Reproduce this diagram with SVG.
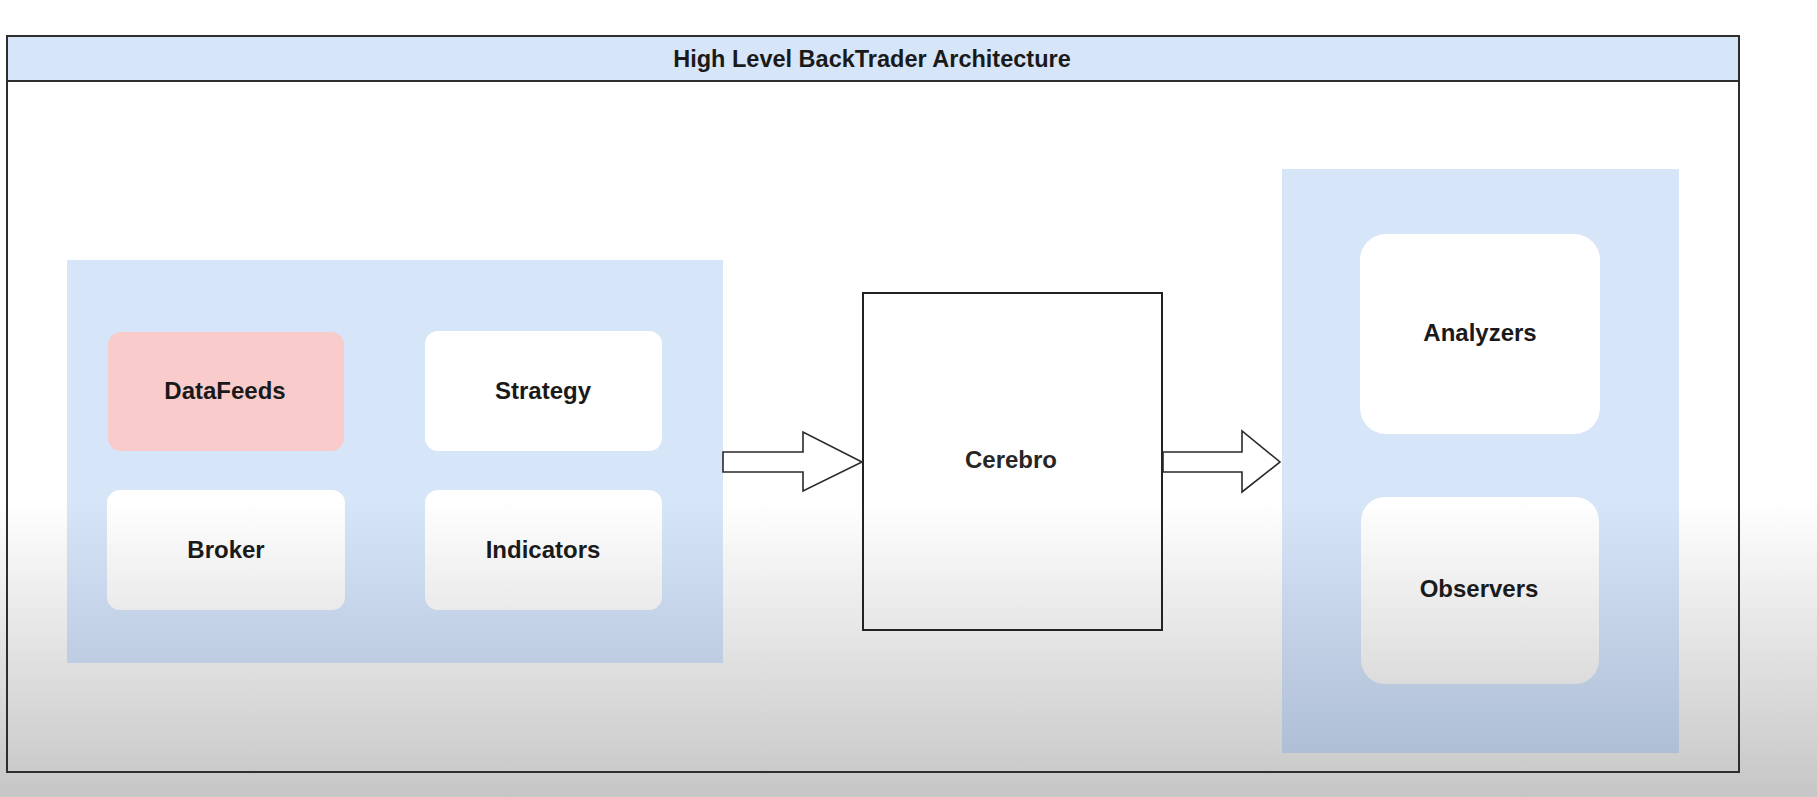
<svg xmlns="http://www.w3.org/2000/svg" width="1817" height="797" viewBox="0 0 1817 797">
  <defs>
    <linearGradient id="gWhite" gradientUnits="userSpaceOnUse" x1="0" y1="500" x2="0" y2="797">
      <stop offset="0" stop-color="#ffffff"/>
      <stop offset="1" stop-color="#c6c6c6"/>
    </linearGradient>
    <linearGradient id="gBlue" gradientUnits="userSpaceOnUse" x1="0" y1="500" x2="0" y2="797">
      <stop offset="0" stop-color="#d7e5f8"/>
      <stop offset="1" stop-color="#a8b8cf"/>
    </linearGradient>
    <style>
      .lbl { font-family: "Liberation Sans", Arial, sans-serif; font-weight: bold; font-size: 24px; fill: #1a1a1a; text-anchor: middle; }
      .title { font-family: "Liberation Sans", Arial, sans-serif; font-weight: bold; font-size: 23.5px; fill: #1a1a1a; text-anchor: middle; }
      .panel { fill: url(#gBlue); }
      .box { fill: url(#gWhite); }
      .arrow { fill: url(#gWhite); stroke: #2a2a2a; stroke-width: 1.6; stroke-linejoin: miter; }
    </style>
  </defs>

  <!-- page background -->
  <rect x="0" y="0" width="1817" height="797" fill="url(#gWhite)"/>

  <!-- outer frame -->
  <g id="frame">
    <rect x="7" y="36" width="1732" height="736" fill="url(#gWhite)" stroke="#2e2e2e" stroke-width="2"/>
    <rect x="7" y="36" width="1732" height="45" fill="#d7e5f8" stroke="#2e2e2e" stroke-width="2"/>
    <text class="title" x="872" y="67">High Level BackTrader Architecture</text>
  </g>

  <!-- left panel -->
  <g id="inputs-panel">
    <rect class="panel" x="67" y="260" width="656" height="403"/>
  </g>

  <g id="datafeeds">
    <rect x="108" y="332" width="236" height="119" rx="13" fill="#f9cbcb"/>
    <text class="lbl" x="225" y="399">DataFeeds</text>
  </g>
  <g id="strategy">
    <rect class="box" x="425" y="331" width="237" height="120" rx="13"/>
    <text class="lbl" x="543" y="399">Strategy</text>
  </g>
  <g id="broker">
    <rect class="box" x="107" y="490" width="238" height="120" rx="13"/>
    <text class="lbl" x="226" y="558">Broker</text>
  </g>
  <g id="indicators">
    <rect class="box" x="425" y="490" width="237" height="120" rx="13"/>
    <text class="lbl" x="543" y="558">Indicators</text>
  </g>

  <!-- cerebro -->
  <g id="cerebro">
    <rect class="box" x="863" y="293" width="299" height="337" stroke="#222" stroke-width="2"/>
    <text class="lbl" x="1011" y="468" style="fill:#262626">Cerebro</text>
  </g>

  <!-- right panel -->
  <g id="outputs-panel">
    <rect class="panel" x="1282" y="169" width="397" height="584"/>
  </g>
  <g id="analyzers">
    <rect class="box" x="1360" y="234" width="240" height="200" rx="26"/>
    <text class="lbl" x="1480" y="341">Analyzers</text>
  </g>
  <g id="observers">
    <rect class="box" x="1361" y="497" width="238" height="187" rx="24"/>
    <text class="lbl" x="1479" y="597">Observers</text>
  </g>

  <!-- connectors -->
  <g id="connectors">
    <polygon class="arrow" points="723,452 803,452 803,432 862,462 803,491 803,472 723,472"/>
    <polygon class="arrow" points="1163,452 1242,452 1242,431 1280,462 1242,492 1242,472 1163,472"/>
  </g>
</svg>
